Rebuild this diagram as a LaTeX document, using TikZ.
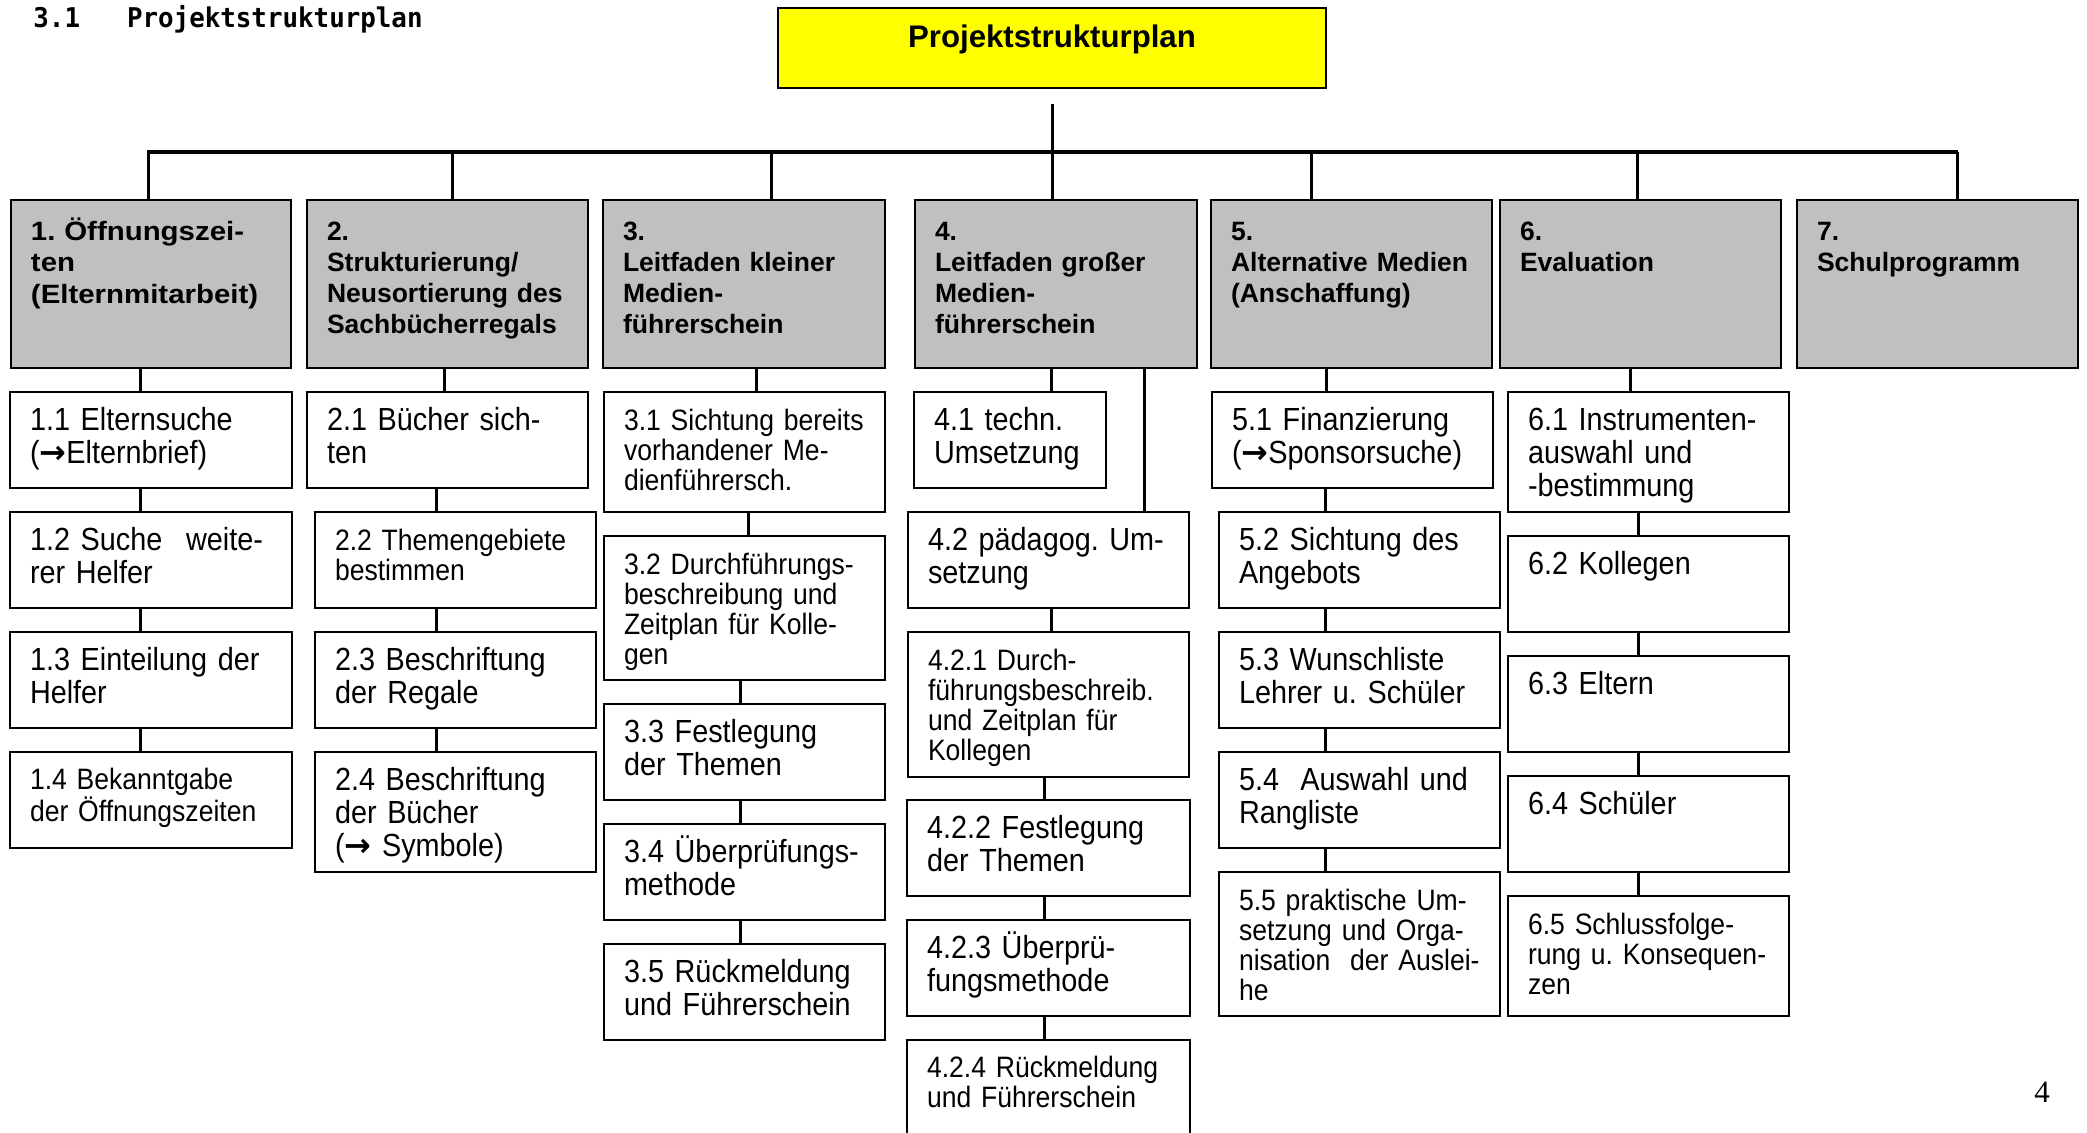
\documentclass[tikz,border=0pt]{standalone}
\usepackage{fontspec}
\setmainfont{Liberation Sans}
\newfontfamily\regf[FakeStretch=0.9]{Liberation Sans}
\newfontfamily\hdf{Liberation Sans}
\newfontfamily\hdwf[FakeStretch=1.11]{Liberation Sans}
\newfontfamily\titlef[FakeStretch=0.95]{DejaVu Sans Mono}
\newfontfamily\pagef{Liberation Serif}
\newfontfamily\arrf{DejaVu Sans}
\newcommand\rarr{{\arrf\bfseries →}}
\definecolor{hdgray}{RGB}{192,192,192}
\definecolor{topyellow}{RGB}{255,255,0}
\newdimen\px \px=0.5pt
\frenchspacing
\tikzset{
  box/.style={draw=black, line width=1pt, fill=white, inner sep=0pt, outer sep=0pt},
  headbox/.style={box, fill=hdgray, line width=1.25pt},
  topbox/.style={box, fill=topyellow, line width=1.25pt},
  txt/.style={inner sep=0pt, outer sep=0pt, align=left, anchor=north west},
  fbig/.style={font=\frenchspacing\regf\fontsize{16pt}{16.5pt}\selectfont},
  fsmall/.style={font=\frenchspacing\regf\fontsize{14.75pt}{15pt}\selectfont},
  fhead/.style={font=\frenchspacing\hdf\bfseries\fontsize{13.25pt}{15.5pt}\selectfont},
  fheadw/.style={font=\frenchspacing\hdwf\bfseries\fontsize{13.25pt}{15.9pt}\selectfont},
  conn/.style={line width=1.5pt},
  busline/.style={line width=2.25pt},
}
% #1 name, #2 x1, #3 y1, #4 x2, #5 y2, #6 box style, #7 font style, #8 baseline offset, #9 text
\newcommand\bx[9]{%
  \pgfmathsetmacro\bxw{(#4-#2)*0.5}%
  \pgfmathsetmacro\bxh{(#5-#3)*0.5}%
  \pgfmathsetmacro\bxtw{(#4-#2)*0.5-12}%
  \node[#6, minimum width=\bxw pt, minimum height=\bxh pt] (#1) at ({(#2+#4)/2},{(#3+#5)/2}) {};%
  \node[txt, #7, text width=\bxtw pt] (#1t) at ([shift={(20,#8-34)}]#1.north west) {\rule{0pt}{17pt}#9};%
}
\newcommand\vc[3]{%
  \path (#3,0) coordinate (vcx);%
  \draw[conn] (#1.south -| vcx) -- (#2.north -| vcx);%
}
\begin{document}
\begin{tikzpicture}[x=0.5pt,y=-0.5pt]
\useasboundingbox (0,0) rectangle (2087,1132);
\fill[white] (0,0) rectangle (2087,1132);
\clip (0,0) rectangle (2087,1132);

% title and page number
\node[font=\titlef\bfseries\fontsize{13.6pt}{15pt}\selectfont, anchor=base west, inner sep=0pt] (title) at (33,27) {3.1\hspace*{23.5pt}Projektstrukturplan};
\node[font=\pagef\fontsize{15.5pt}{17pt}\selectfont, anchor=base, inner sep=0pt] (pnum) at (2042,1102) {4};

% top box
\node[topbox, minimum width=274pt, minimum height=40pt] (top) at (1052,48) {};
\node[font=\hdf\bfseries\fontsize{15.6pt}{18pt}\selectfont, anchor=base, inner sep=0pt] (topt) at (1052,47) {Projektstrukturplan};

% level 1
\bx{L1}{11}{200}{291}{368}{headbox}{fheadw}{40}{1. Öffnungszei-\\ten\\(Elternmitarbeit)}
\bx{L2}{307}{200}{588}{368}{headbox}{fhead}{40}{2.\\Strukturierung/\\Neusortierung des\\Sachbücherregals}
\bx{L3}{603}{200}{885}{368}{headbox}{fhead}{40}{3.\\Leitfaden kleiner\\Medien-\\führerschein}
\bx{L4}{915}{200}{1197}{368}{headbox}{fhead}{40}{4.\\Leitfaden großer\\Medien-\\führerschein}
\bx{L5}{1211}{200}{1492}{368}{headbox}{fhead}{40}{5.\\Alternative Medien\\(Anschaffung)}
\bx{L6}{1500}{200}{1781}{368}{headbox}{fhead}{40}{6.\\Evaluation}
\bx{L7}{1797}{200}{2078}{368}{headbox}{fhead}{40}{7.\\Schulprogramm}

% column 1
\bx{n11}{10}{392}{292}{488}{box}{fbig}{38}{1.1 Elternsuche\\(\rarr Elternbrief)}
\bx{n12}{10}{512}{292}{608}{box}{fbig}{38}{\makebox[233\px][s]{1.2 Suche\hfill weite-}\\rer Helfer}
\bx{n13}{10}{632}{292}{728}{box}{fbig}{38}{1.3 Einteilung der\\Helfer}
\bx{n14}{10}{752}{292}{848}{box}{fsmall}{37}{1.4 Bekanntgabe\\der Öffnungszeiten}
% column 2
\bx{n21}{307}{392}{588}{488}{box}{fbig}{38}{2.1 Bücher sich-\\ten}
\bx{n22}{315}{512}{596}{608}{box}{fsmall}{38}{2.2 Themengebiete\\bestimmen}
\bx{n23}{315}{632}{596}{728}{box}{fbig}{38}{2.3 Beschriftung\\der Regale}
\bx{n24}{315}{752}{596}{872}{box}{fbig}{38}{2.4 Beschriftung\\der Bücher\\(\rarr{} Symbole)}
% column 3
\bx{n31}{604}{392}{885}{512}{box}{fsmall}{38}{3.1 Sichtung bereits\\vorhandener Me-\\dienführersch.}
\bx{n32}{604}{536}{885}{680}{box}{fsmall}{38.5}{3.2 Durchführungs-\\beschreibung und\\Zeitplan für Kolle-\\gen}
\bx{n33}{604}{704}{885}{800}{box}{fbig}{38}{3.3 Festlegung\\der Themen}
\bx{n34}{604}{824}{885}{920}{box}{fbig}{38}{3.4 Überprüfungs-\\methode}
\bx{n35}{604}{944}{885}{1040}{box}{fbig}{38}{3.5 Rückmeldung\\und Führerschein}
% column 4
\bx{n41}{914}{392}{1106}{488}{box}{fbig}{38}{4.1 techn.\\Umsetzung}
\bx{n42}{908}{512}{1189}{608}{box}{fbig}{38}{4.2 pädagog. Um-\\setzung}
\bx{n421}{908}{632}{1189}{777}{box}{fsmall}{38.5}{4.2.1 Durch-\\führungsbeschreib.\\und Zeitplan für\\Kollegen}
\bx{n422}{907}{800}{1190}{896}{box}{fbig}{38}{4.2.2 Festlegung\\der Themen}
\bx{n423}{907}{920}{1190}{1016}{box}{fbig}{38}{4.2.3 Überprü-\\fungsmethode}
\bx{n424}{907}{1040}{1190}{1150}{box}{fsmall}{37}{4.2.4 Rückmeldung\\und Führerschein}
% column 5
\bx{n51}{1212}{392}{1493}{488}{box}{fbig}{38}{5.1 Finanzierung\\(\rarr Sponsorsuche)}
\bx{n52}{1219}{512}{1500}{608}{box}{fbig}{38}{5.2 Sichtung des\\Angebots}
\bx{n53}{1219}{632}{1500}{728}{box}{fbig}{38}{5.3 Wunschliste\\Lehrer u. Schüler}
\bx{n54}{1219}{752}{1500}{848}{box}{fbig}{38}{5.4\ \ Auswahl und\\Rangliste}
\bx{n55}{1219}{872}{1500}{1016}{box}{fsmall}{38}{5.5 praktische Um-\\setzung und Orga-\\nisation\ \ der Auslei-\\he}
% column 6
\bx{n61}{1508}{392}{1789}{512}{box}{fbig}{38}{6.1 Instrumenten-\\auswahl und\\-bestimmung}
\bx{n62}{1508}{536}{1789}{632}{box}{fbig}{38}{6.2 Kollegen}
\bx{n63}{1508}{656}{1789}{752}{box}{fbig}{38}{6.3 Eltern}
\bx{n64}{1508}{776}{1789}{872}{box}{fbig}{38}{6.4 Schüler}
\bx{n65}{1508}{896}{1789}{1016}{box}{fsmall}{38}{6.5 Schlussfolge-\\rung u. Konsequen-\\zen}

% tree connectors
\coordinate (b1) at (148,152);
\coordinate (b2) at (452,152);
\coordinate (b3) at (771,152);
\coordinate (b4) at (1052,152);
\coordinate (b5) at (1311,152);
\coordinate (b6) at (1637,152);
\coordinate (b7) at (1957,152);
\draw[conn] ([yshift=-8pt]top.south) -- (b4);
\draw[busline] ([xshift=-0.375pt]b1) -- ([xshift=0.375pt]b7);
\foreach \i in {1,...,7} {\draw[conn] (b\i) -- (L\i.north -| b\i);}

\vc{L1}{n11}{140} \vc{n11}{n12}{140} \vc{n12}{n13}{140} \vc{n13}{n14}{140}
\vc{L2}{n21}{444} \vc{n21}{n22}{436} \vc{n22}{n23}{436} \vc{n23}{n24}{436}
\vc{L3}{n31}{756} \vc{n31}{n32}{748} \vc{n32}{n33}{740} \vc{n33}{n34}{740} \vc{n34}{n35}{740}
\vc{L4}{n41}{1051} \vc{L4}{n42}{1144} \vc{n42}{n421}{1051} \vc{n421}{n422}{1044} \vc{n422}{n423}{1044} \vc{n423}{n424}{1044}
\vc{L5}{n51}{1326} \vc{n51}{n52}{1325} \vc{n52}{n53}{1325} \vc{n53}{n54}{1325} \vc{n54}{n55}{1325}
\vc{L6}{n61}{1630} \vc{n61}{n62}{1638} \vc{n62}{n63}{1638} \vc{n63}{n64}{1638} \vc{n64}{n65}{1638}
\end{tikzpicture}
\end{document}
